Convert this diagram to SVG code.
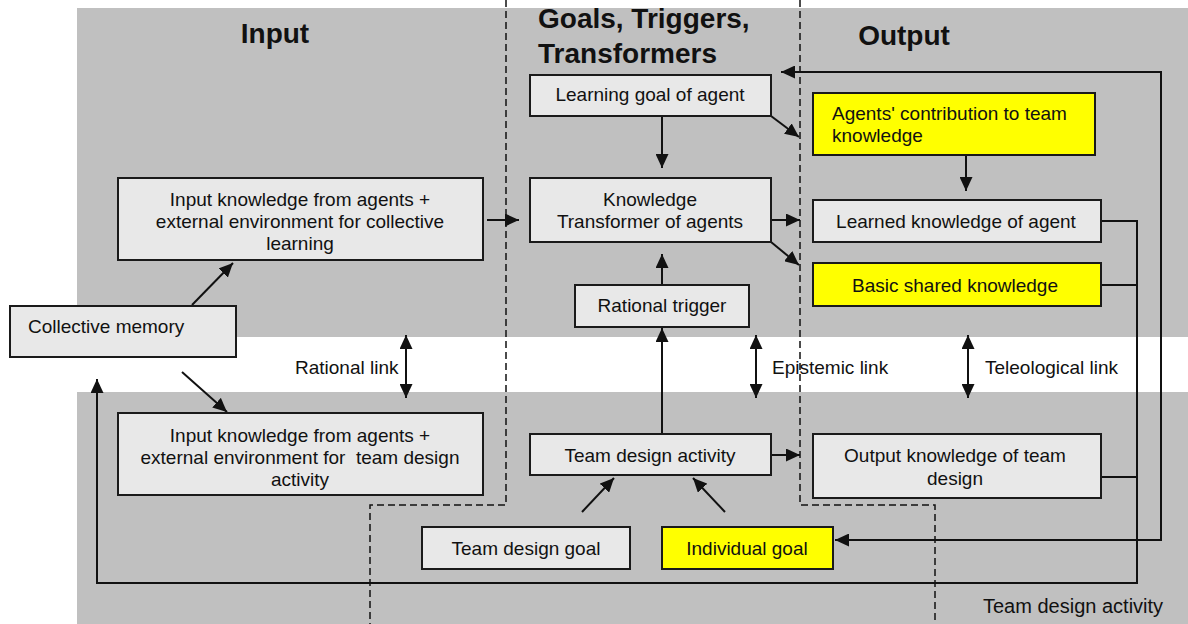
<svg xmlns="http://www.w3.org/2000/svg" width="1188" height="624" viewBox="0 0 1188 624">
  <style>
    .band { fill: #c0c0c0; }
    .box { fill: #e8e8e8; stroke: #1a1a1a; stroke-width: 2; }
    .hl { fill: #ffff00; stroke: #1a1a1a; stroke-width: 2; }
    .t { font-family: "Liberation Sans", Arial, sans-serif; font-size: 19px; fill: #111; }
    .c { text-anchor: middle; }
    .title { font-family: "Liberation Sans", Arial, sans-serif; font-size: 28px; font-weight: bold; fill: #111; }
    .line { fill: none; stroke: #111; stroke-width: 2; }
    .arr { marker-end: url(#head); }
    .dash { fill: none; stroke: #111; stroke-width: 1.5; stroke-dasharray: 7 4; }
  </style>
  <defs>
    <marker id="head" markerUnits="userSpaceOnUse" markerWidth="15" markerHeight="13" refX="14" refY="6.5" orient="auto-start-reverse">
      <path d="M0,0 L14,6.5 L0,13 z" fill="#111"/>
    </marker>
  </defs>

  <!-- background bands -->
  <rect width="1188" height="624" fill="#ffffff"/>
  <rect class="band" x="77" y="8" width="1111" height="329"/>
  <rect class="band" x="77" y="392" width="1111" height="232"/>

  <!-- region boundaries -->
  <g id="boundaries">
    <path class="dash" d="M506 0 V505 H370 V624"/>
    <path class="dash" d="M800 0 V505 H935 V624"/>
  </g>

  <!-- column titles -->
  <text class="title" x="275" y="43" text-anchor="middle">Input</text>
  <text class="title" x="538" y="28">Goals, Triggers,</text>
  <text class="title" x="538" y="63">Transformers</text>
  <text class="title" x="904" y="45" text-anchor="middle">Output</text>

  <!-- connectors -->
  <g id="connectors">
    <path class="line arr" d="M192 305 L233 263"/>
    <path class="line arr" d="M182 372 L227 412"/>
    <path class="line arr" d="M487 220 H519"/>
    <path class="line arr" d="M662 116 V168"/>
    <path class="line arr" d="M771 116 L799 137"/>
    <path class="line arr" d="M771 220 H800"/>
    <path class="line arr" d="M771 242 L799 265"/>
    <path class="line arr" d="M662 285 V254"/>
    <path class="line arr" d="M662 434 V328"/>
    <path class="line arr" d="M966 155 V191"/>
    <path class="line arr" d="M771 455 H800"/>
    <path class="line arr" d="M582 512 L614 478"/>
    <path class="line arr" d="M725 512 L693 478"/>
    <!-- links across the white band -->
    <path class="line arr" style="marker-start:url(#head)" d="M406 335 V398"/>
    <path class="line arr" style="marker-start:url(#head)" d="M756 335 V398"/>
    <path class="line arr" style="marker-start:url(#head)" d="M968 335 V398"/>
    <!-- feedback loops -->
    <path class="line arr" style="marker-start:url(#head)" d="M781 72 H1161 V540 H835"/>
    <path class="line arr" d="M1101 221 H1137 V583 H97 V379"/>
    <path class="line" d="M1101 285 H1137"/>
    <path class="line" d="M1101 477 H1137"/>
  </g>

  <!-- nodes -->
  <g id="input-collective">
    <rect class="box" x="118" y="178" width="365" height="82"/>
    <text class="t c" x="300" y="206">Input knowledge from agents +</text>
    <text class="t c" x="300" y="228">external environment for collective</text>
    <text class="t c" x="300" y="250">learning</text>
  </g>
  <g id="collective-memory">
    <rect class="box" x="10" y="306" width="226" height="51"/>
    <text class="t" x="28" y="333">Collective memory</text>
  </g>
  <g id="input-team">
    <rect class="box" x="118" y="413" width="365" height="82"/>
    <text class="t c" x="300" y="442">Input knowledge from agents +</text>
    <text class="t c" x="300" y="464" xml:space="preserve">external environment for  team design</text>
    <text class="t c" x="300" y="486">activity</text>
  </g>
  <g id="learning-goal">
    <rect class="box" x="530" y="75" width="241" height="41"/>
    <text class="t c" x="650" y="101">Learning goal of agent</text>
  </g>
  <g id="knowledge-transformer">
    <rect class="box" x="530" y="178" width="241" height="64"/>
    <text class="t c" x="650" y="206">Knowledge</text>
    <text class="t c" x="650" y="228">Transformer of agents</text>
  </g>
  <g id="rational-trigger">
    <rect class="box" x="575" y="285" width="174" height="42"/>
    <text class="t c" x="662" y="312">Rational trigger</text>
  </g>
  <g id="team-design-activity">
    <rect class="box" x="530" y="434" width="241" height="41"/>
    <text class="t c" x="650" y="462">Team design activity</text>
  </g>
  <g id="team-design-goal">
    <rect class="box" x="422" y="527" width="208" height="42"/>
    <text class="t c" x="526" y="555">Team design goal</text>
  </g>
  <g id="individual-goal">
    <rect class="hl" x="662" y="527" width="171" height="42"/>
    <text class="t c" x="747" y="555">Individual goal</text>
  </g>
  <g id="agents-contribution">
    <rect class="hl" x="813" y="93" width="282" height="62"/>
    <text class="t" x="832" y="120">Agents' contribution to team</text>
    <text class="t" x="832" y="142">knowledge</text>
  </g>
  <g id="learned-knowledge">
    <rect class="box" x="813" y="200" width="288" height="42"/>
    <text class="t c" x="956" y="228">Learned knowledge of agent</text>
  </g>
  <g id="basic-shared">
    <rect class="hl" x="813" y="263" width="288" height="43"/>
    <text class="t c" x="955" y="292">Basic shared knowledge</text>
  </g>
  <g id="output-team">
    <rect class="box" x="813" y="434" width="288" height="64"/>
    <text class="t c" x="955" y="462">Output knowledge of team</text>
    <text class="t c" x="955" y="485">design</text>
  </g>

  <!-- link labels -->
  <text class="t" x="295" y="374">Rational link</text>
  <text class="t" x="772" y="374">Epistemic link</text>
  <text class="t" x="985" y="374">Teleological link</text>
  <text class="t" x="983" y="613" style="font-size:20px">Team design activity</text>
</svg>
